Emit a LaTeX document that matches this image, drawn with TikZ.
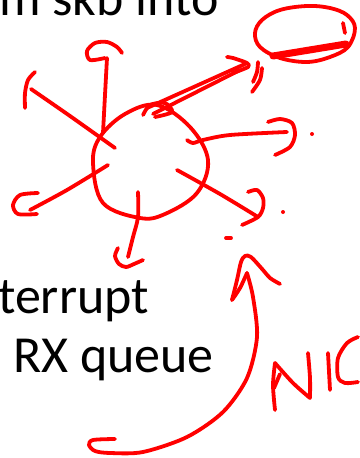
\documentclass[tikz,border=0pt]{standalone}
\usepackage{fontspec}
\setmainfont{Carlito}
\begin{document}
\begin{tikzpicture}[x=1pt,y=-1pt,
  ink/.style={draw=red, line width=3.8pt, line cap=round, line join=round},
  inkfat/.style={draw=red, line width=7pt, line cap=round},
  slidetext/.style={inner sep=0pt, font=\fontsize{52}{60}\selectfont, text=black}]
\useasboundingbox (0,0) rectangle (359,458);

% slide text behind the sketch
\node[slidetext, anchor=base east] (top) at (219,15) {m skb into};
\node[slidetext, anchor=base west] (l1) at (-2,313) {terrupt};
\node[slidetext, anchor=base west] (l2) at (13,372) {RX queue};

% central blob
\draw[ink] plot[smooth cycle, tension=0.6] coordinates
  {(157,105) (190,127) (208,160) (197,193) (165,214) (140,218)
   (103,203) (93,163) (100,137) (125,114)};

% rays with curled heads
\draw[ink] plot[smooth] coordinates {(103,133) (105,95) (107,58)};
\draw[ink] plot[smooth] coordinates {(105,58) (90,60) (87,51) (95,43) (107,42) (117,47) (122,53)};

\draw[ink] plot[smooth] coordinates {(115,148) (70,116) (31,89)};
\draw[ink] plot[smooth] coordinates {(25,108) (25,93) (28,80) (35,72)};

\draw[ink] plot[smooth] coordinates {(108,165) (67,190) (30,210)};
\draw[ink] plot[smooth] coordinates {(38,193) (20,195) (13,205) (18,214) (37,214)};

\draw[ink] plot[smooth] coordinates {(138,192) (138,217) (133,237) (128,257)};
\draw[ink] plot[smooth] coordinates {(118,248) (115,256) (119,264) (126,267) (134,264) (143,260)};

\draw[ink] plot[smooth] coordinates {(177,170) (220,194) (258,217)};
\draw[ink] plot[smooth] coordinates {(248,192) (257,190) (263,198) (263,208) (258,217) (242,225)};

\draw[ink] plot[smooth] coordinates {(187,140) (193,143) (203,140) (230,135) (287,132)};
\draw[ink] plot[smooth] coordinates {(268,122) (280,119) (292,123) (295,135) (290,147) (275,155)};

% stray dots
\fill[red] (312,134) circle (2pt);
\fill[red] (283,212) circle (2pt);
\draw[ink] (226,238) -- (231,238);

% target ellipse
\draw[ink] plot[smooth cycle, tension=0.6] coordinates
  {(255,33) (262,20) (280,10) (307,6) (330,8) (347,15) (355,28)
   (348,47) (330,57) (307,62) (280,58) (260,47)};
\draw[inkfat] (273,56) -- (346,44);
\draw[ink] (343,23) -- (345,33);
\draw[ink] plot[smooth] coordinates {(258,62) (257,72) (253,82)};
\draw[ink] plot[smooth] coordinates {(262,68) (260,80) (252,92)};

% double-stroked arrow from the blob to the ellipse
\draw[ink] plot[smooth] coordinates {(143,115) (150,105) (165,103) (172,112) (155,117)};
\draw[ink] (147,108) -- (245,64);
\draw[ink] (153,114) -- (240,70);
\draw[ink] plot[smooth] coordinates {(227,57) (233,58) (247,63) (248,67) (233,73)};

% curved arrow coming up from the NIC
\draw[ink] plot[smooth] coordinates
  {(115,439) (93,440) (89,445) (95,451) (110,453) (143,452) (187,437)
   (223,412) (247,378) (257,337) (253,297) (247,273)};
\draw[ink] plot[smooth] coordinates {(247,273) (240,288) (232,300)};
\draw[ink] plot[smooth] coordinates {(232,300) (237,280) (241,262) (245,256) (251,257) (263,270) (270,278) (280,284)};

% handwritten NIC
\draw[ink] plot[smooth] coordinates {(275,410) (273,385) (275,363)};
\draw[ink] (280,374) -- (274,388);
\draw[ink] plot[smooth] coordinates {(275,363) (293,383) (310,398)};
\draw[ink] plot[smooth] coordinates {(310,398) (310,378) (308,353)};
\draw[ink] (328,353) -- (330,390);
\draw[ink] plot[smooth] coordinates {(358,337) (347,343) (338,358) (338,377) (345,383) (358,382)};
\end{tikzpicture}
\end{document}
